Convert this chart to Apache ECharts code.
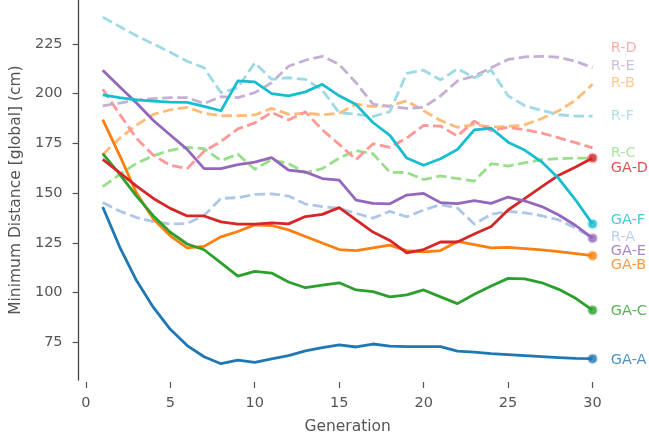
<!DOCTYPE html>
<html><head><meta charset="utf-8">
<script src="https://cdn.jsdelivr.net/npm/echarts@6/dist/echarts.min.js"></script>
<style>html,body{margin:0;padding:0;background:#fff}#c{width:649px;height:440px}</style>
</head><body><div id="c"></div>
<script>
// ---- data ----
const generations = [1,2,3,4,5,6,7,8,9,10,11,12,13,14,15,16,17,18,19,20,21,22,23,24,25,26,27,28,29,30];
const xTicks = [0,5,10,15,20,25,30];
const yTicks = [75,100,125,150,175,200,225];

const gaA = [143,123,106,92.5,81.5,73.3,67.7,64.2,66,64.9,66.6,68.3,70.6,72.3,73.7,72.6,74.1,73,72.8,72.8,72.8,70.5,70,69.3,68.8,68.3,67.8,67.3,66.9,66.7];
const gaB = [186.9,169,150,137,128.5,122.4,123.2,128,130.7,134,133.7,131.5,128.2,124.9,121.6,121.1,122.4,123.8,121.1,120.4,121.1,125.7,124.1,122.4,122.7,122.1,121.4,120.6,119.6,118.5];
const gaC = [169.8,159.5,148.5,138.5,130.3,124.4,121.5,114.9,108.2,110.6,109.8,105.3,102.4,103.7,104.9,101.3,100.4,97.8,98.8,101.3,97.8,94.4,99.1,103.3,107.1,106.9,104.9,101.6,97.1,91.1];
const gaD = [166.9,160.3,153.5,147.3,142.3,138.5,138.5,135.5,134.4,134.4,135.0,134.5,138.2,139.3,142.7,136.5,130.4,126.2,119.9,121.6,125.4,125.4,129.4,133.2,141.5,147.3,153.2,159.0,163.1,167.6];
const gaE = [211.8,203.5,195.3,186.5,179.2,172,162.3,162.3,164.3,165.6,167.8,161.5,160.6,157.3,156.5,146.5,144.8,144.6,149.0,149.8,145.2,144.7,146.2,144.8,148.0,146.0,143.2,139.0,133.7,127.3];
const gaF = [199.4,198,196.9,196.2,195.7,195.6,193.6,191.4,206.4,205.9,200,198.9,200.9,204.7,198.9,194.5,185.5,179,167.6,164,167.3,171.9,181.8,182.6,175.6,171.5,165.6,157.3,146.5,134.4];
const rA = [145.3,141,137.7,135.7,134.5,134.7,138.7,147.3,147.7,149.3,149.6,148.5,144.5,143.2,142.3,139.8,137.4,140.8,138.1,141.5,144.2,142.5,134.4,139.3,140.8,140,138.6,136.5,132.4,127.3];
const rB = [169.3,177.6,184.2,189.6,191.9,193.1,190.2,188.9,188.9,189.3,192.6,189.7,190.2,189.4,190.2,194.7,193.5,193.9,196.4,191.4,186.5,183.1,184.4,183.3,183.5,184.4,187.5,191.4,196.8,204.7];
const rC = [153.2,159.3,165,168.8,171.5,173,172.3,166.3,169.6,162,166.8,164.8,160.2,162.3,167.6,171.4,169.8,160.5,160.3,156.8,158.6,157.3,156,164.8,163.6,165.3,166.8,167.3,167.6,167.6];
const rD = [202.2,189.7,177.5,169,164,162.3,171,176,182.3,185.3,190.6,186.8,190.8,181.8,174.5,166.8,174.8,173,177.7,184,183.7,178.7,186.2,181.4,183.1,181.8,180.2,177.8,175.4,172.7];
const rE = [193.9,195.2,196.7,197.5,198,198,195,198.5,198,200.5,205.5,213.8,216.8,218.8,214.7,205.5,194.7,193.6,192.6,193.1,198.9,206.4,208.9,213,217.2,218.5,218.8,218.3,216.3,213];
const rF = [238.5,233.8,229.1,225,220.8,216.3,213,200.5,203,215.5,207.2,208,207.2,201.8,190.4,189.7,188.5,191,210.2,211.8,206.9,212.5,208,211.8,198.9,193.9,191.6,189.4,188.7,188.7];

// ---- styling / layout ----
const seriesDefs = [
  {name:'R-A', data:rA, color:'#aec7e8', dashed:true},
  {name:'R-B', data:rB, color:'#ffbb78', dashed:true},
  {name:'R-C', data:rC, color:'#98df8a', dashed:true},
  {name:'R-D', data:rD, color:'#ff9896', dashed:true},
  {name:'R-E', data:rE, color:'#c5b0d5', dashed:true},
  {name:'R-F', data:rF, color:'#9edae5', dashed:true},
  {name:'GA-A', data:gaA, color:'#1f77b4', dashed:false},
  {name:'GA-B', data:gaB, color:'#ff7f0e', dashed:false},
  {name:'GA-C', data:gaC, color:'#2ca02c', dashed:false},
  {name:'GA-D', data:gaD, color:'#d62728', dashed:false},
  {name:'GA-E', data:gaE, color:'#9467bd', dashed:false},
  {name:'GA-F', data:gaF, color:'#17becf', dashed:false}
];
// vertical anchor (in axis units) of each series' text label at the right
const labelAnchorY = {'R-D':222.7,'R-E':213.8,'R-B':205.0,'R-F':188.7,'R-C':169.8,'GA-D':162.6,
  'GA-F':136.2,'R-A':127.7,'GA-E':121.0,'GA-B':113.6,'GA-C':90.5,'GA-A':65.9};
const labelAnchorX = 31.08;
const FONT = 'DejaVu Sans';
const TXT = '#555555';

function hexA(hex, a){
  const n = parseInt(hex.slice(1),16);
  return 'rgba('+((n>>16)&255)+','+((n>>8)&255)+','+(n&255)+','+a+')';
}

const series = [];
seriesDefs.forEach(d => {
  series.push({
    type:'line', name:d.name, showSymbol:false, symbol:'none', clip:false,
    data: generations.map((g,i)=>[g, d.data[i]]),
    lineStyle:{color:d.color, width:2.8, type: d.dashed ? [10.5,4.5] : 'solid', join:'round', cap:'butt'},
    itemStyle:{color:d.color}, z: d.dashed ? 2 : 3
  });
});
// end dots for GA series
series.push({
  type:'scatter', name:'ends', clip:false, z:5, symbolSize:8,
  data: seriesDefs.filter(d=>!d.dashed).map(d=>({
    value:[generations[generations.length-1], d.data[d.data.length-1]],
    itemStyle:{color:d.color, borderColor:hexA(d.color,0.35), borderWidth:3}
  }))
});
// text labels
series.push({
  type:'scatter', name:'labels', clip:false, z:6, symbolSize:0, silent:true,
  data: seriesDefs.map(d=>({
    value:[labelAnchorX, labelAnchorY[d.name]], name:d.name,
    label:{show:true, position:'right', distance:0, formatter:d.name, color:d.color,
      fontFamily:FONT, fontSize:14.5}
  }))
});

const chart = echarts.init(document.getElementById('c'), null, {renderer:'canvas'});
chart.setOption({
  animation:false,
  backgroundColor:'#ffffff',
  grid:{left:75.7, right:32.3, top:0.2, bottom:56.9},
  xAxis:{
    type:'value', min:-0.43, max:31.43, offset:2,
    axisLine:{show:false, onZero:false},
    axisTick:{show:true, length:6, customValues:xTicks, lineStyle:{color:TXT, width:1.2}},
    axisLabel:{customValues:xTicks, color:TXT, fontFamily:FONT, fontSize:14.5, margin:14},
    splitLine:{show:false},
    name:'Generation', nameLocation:'middle', nameGap:37,
    nameTextStyle:{color:TXT, fontFamily:FONT, fontSize:15.5}
  },
  yAxis:{
    type:'value', min:56, max:247,
    axisLine:{show:true, onZero:false, lineStyle:{color:'#444', width:1.3}},
    axisTick:{show:true, length:6, customValues:yTicks, lineStyle:{color:TXT, width:1.2}},
    axisLabel:{customValues:yTicks, color:TXT, fontFamily:FONT, fontSize:14.5, margin:16},
    splitLine:{show:false},
    name:'Minimum Distance [global] (cm)', nameLocation:'middle', nameGap:53,
    nameTextStyle:{color:TXT, fontFamily:FONT, fontSize:15.5}
  },
  series: series
});
</script></body></html>
